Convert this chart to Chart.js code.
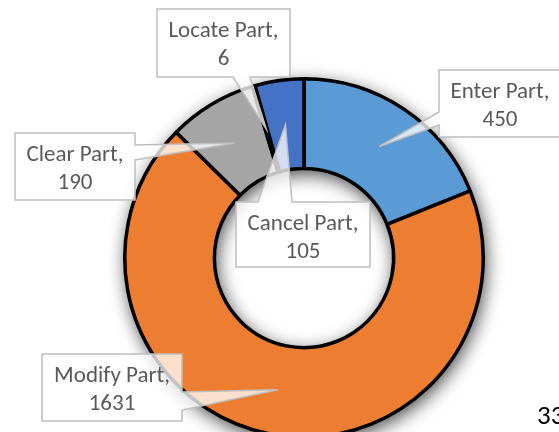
<!DOCTYPE html>
<html>
<head>
<meta charset="utf-8">
<script src="https://cdn.jsdelivr.net/npm/chart.js@4/dist/chart.umd.min.js"></script>
<style>
  html, body { margin: 0; padding: 0; background: #ffffff; overflow: hidden; }
  #wrap { width: 559px; height: 432px; overflow: hidden; position: relative; }
  canvas { display: block; }
</style>
</head>
<body>
<div id="wrap"><canvas id="c" width="559" height="480"></canvas></div>
<script>
// ---- data ----
const categories = ["Enter Part", "Modify Part", "Clear Part", "Locate Part", "Cancel Part"];
const values = [450, 1631, 190, 6, 105];
const sliceColors = ["#5B9BD5", "#ED7D31", "#A5A5A5", "#FFC000", "#4472C4"];
const cornerText = "33";

// ---- callout layout (box placement, not data) ----
const calloutLayout = [
  { x: 439, y: 70,  w: 122, h: 67, side: "left",   a: 112, b: 125 },
  { x: 42,  y: 354, w: 140, h: 67, side: "right",  a: 392, b: 410 },
  { x: 15,  y: 133, w: 120, h: 67, side: "right",  a: 145, b: 160 },
  { x: 157, y: 9,   w: 133, h: 68, side: "bottom", a: 233, b: 250 },
  { x: 236, y: 202, w: 134, h: 65, side: "top",    a: 258, b: 292 }
];

const FONT = "Carlito, Lato, 'Open Sans', sans-serif";

const shadowRing = {
  id: "shadowRing",
  beforeDatasetsDraw(chart) {
    const arc = chart.getDatasetMeta(0).data[0];
    if (!arc) return;
    const p = arc.getProps(["x", "y", "innerRadius", "outerRadius"], true);
    const ctx = chart.ctx;
    ctx.save();
    ctx.shadowColor = "rgba(0,0,0,0.7)";
    ctx.shadowBlur = 18;
    ctx.shadowOffsetX = 2;
    ctx.shadowOffsetY = 5;
    ctx.fillStyle = "#888";
    ctx.beginPath();
    ctx.arc(p.x, p.y, p.outerRadius + 1, 0, Math.PI * 2);
    ctx.arc(p.x, p.y, Math.max(p.innerRadius - 1, 0), 0, Math.PI * 2, true);
    ctx.fill();
    ctx.restore();
  }
};

function calloutPath(ctx, L, tip) {
  const x = L.x, y = L.y, w = L.w, h = L.h;
  ctx.beginPath();
  ctx.moveTo(x, y);
  if (L.side === "top") { ctx.lineTo(L.a, y); ctx.lineTo(tip.x, tip.y); ctx.lineTo(L.b, y); }
  ctx.lineTo(x + w, y);
  if (L.side === "right") { ctx.lineTo(x + w, L.a); ctx.lineTo(tip.x, tip.y); ctx.lineTo(x + w, L.b); }
  ctx.lineTo(x + w, y + h);
  if (L.side === "bottom") { ctx.lineTo(L.b, y + h); ctx.lineTo(tip.x, tip.y); ctx.lineTo(L.a, y + h); }
  ctx.lineTo(x, y + h);
  if (L.side === "left") { ctx.lineTo(x, L.b); ctx.lineTo(tip.x, tip.y); ctx.lineTo(x, L.a); }
  ctx.closePath();
}

const callouts = {
  id: "callouts",
  afterDraw(chart) {
    const ctx = chart.ctx;
    const arcs = chart.getDatasetMeta(0).data;
    ctx.save();
    arcs.forEach((arc, i) => {
      const L = calloutLayout[i];
      const tip = arc.getCenterPoint(true);
      calloutPath(ctx, L, tip);
      ctx.fillStyle = "rgba(255,255,255,0.76)";
      ctx.fill();
      ctx.strokeStyle = "#BFBFBF";
      ctx.lineWidth = 1.5;
      ctx.stroke();
      ctx.fillStyle = "#595959";
      ctx.font = "23px " + FONT;
      ctx.textAlign = "center";
      ctx.textBaseline = "alphabetic";
      const cx = L.x + L.w / 2;
      ctx.fillText(categories[i] + ",", cx, L.y + 28);
      ctx.fillText(String(values[i]), cx, L.y + 56);
    });
    ctx.fillStyle = "#000000";
    ctx.font = "27px " + FONT;
    ctx.textAlign = "left";
    ctx.fillText(cornerText, 537, 424);
    ctx.restore();
  }
};

new Chart(document.getElementById("c"), {
  type: "doughnut",
  data: {
    labels: categories,
    datasets: [{
      data: values,
      backgroundColor: sliceColors,
      borderColor: "#000000",
      borderWidth: 3.5
    }]
  },
  options: {
    responsive: false,
    animation: false,
    cutout: "50%",
    layout: { padding: { left: 123, right: 74, top: 77, bottom: 41 } },
    plugins: { legend: { display: false }, tooltip: { enabled: false } }
  },
  plugins: [shadowRing, callouts]
});
</script>
</body>
</html>
